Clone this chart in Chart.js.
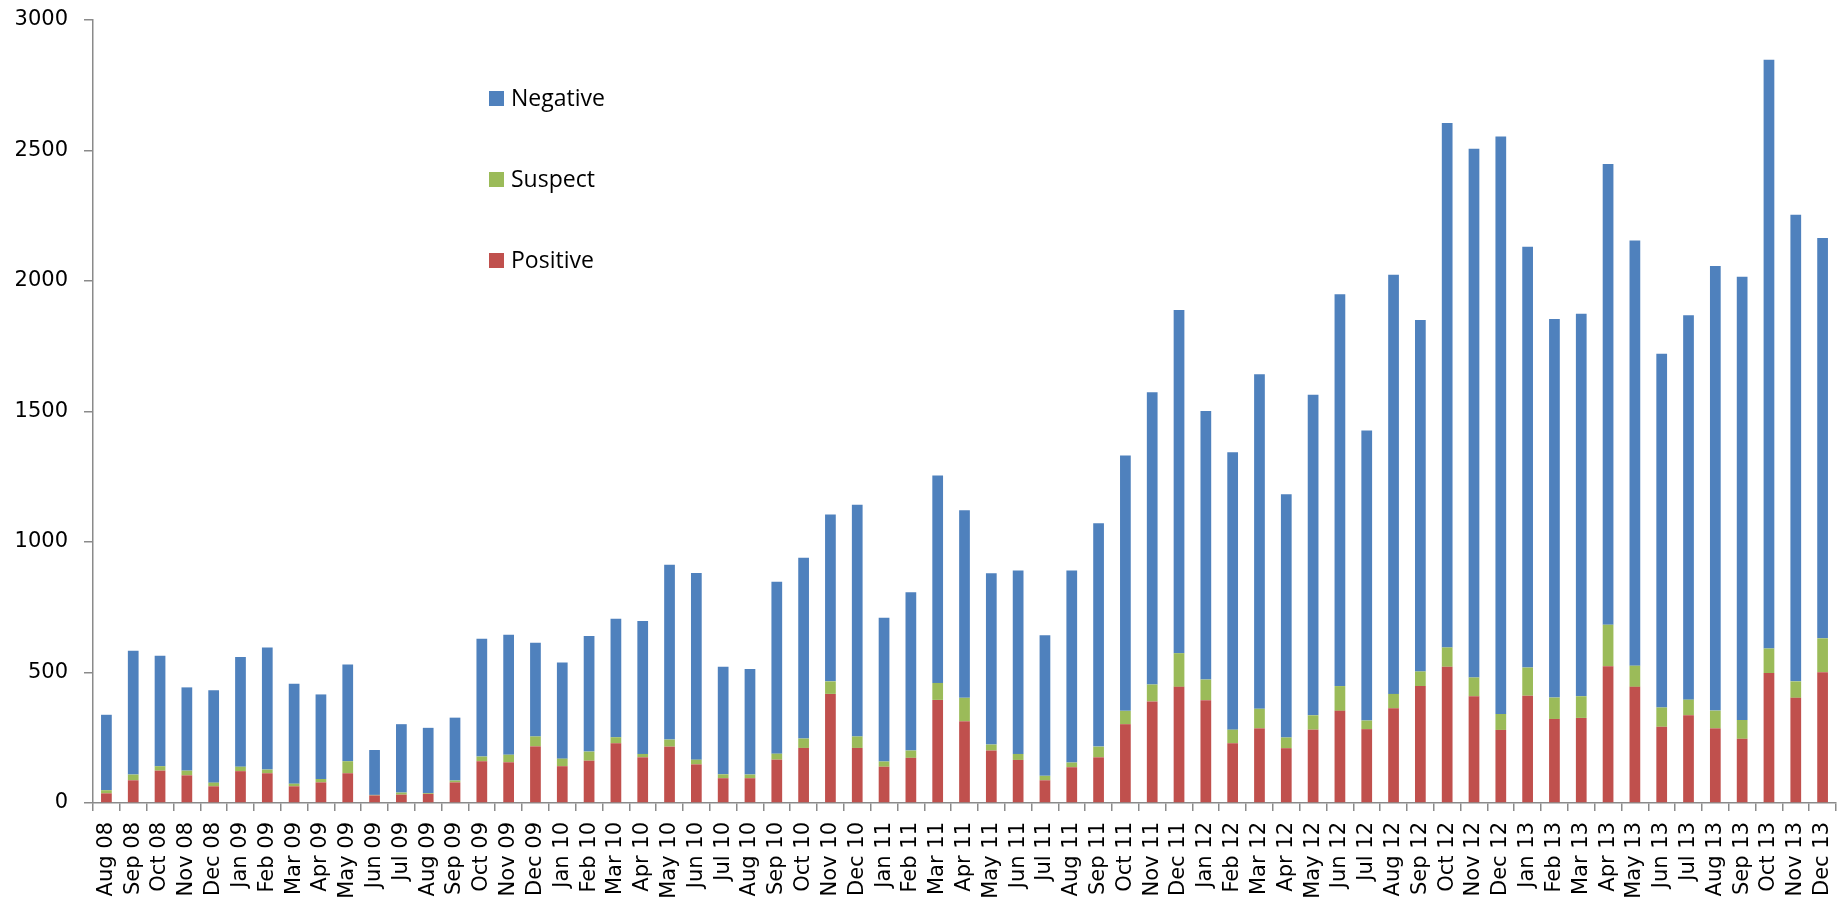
<!DOCTYPE html>
<html>
<head>
<meta charset="utf-8">
<title>Monthly test results</title>
<script src="https://cdn.jsdelivr.net/npm/chart.js@4/dist/chart.umd.min.js"></script>
<style>
  html, body { margin: 0; padding: 0; background: #ffffff; }
  #wrap { width: 1847px; height: 900px; }
</style>
</head>
<body>
<div id="wrap"><canvas id="c" width="1847" height="900"></canvas></div>
<script>
// Months, Aug 2008 – Dec 2013
const months = [
  'Aug 08','Sep 08','Oct 08','Nov 08','Dec 08',
  'Jan 09','Feb 09','Mar 09','Apr 09','May 09','Jun 09','Jul 09','Aug 09','Sep 09','Oct 09','Nov 09','Dec 09',
  'Jan 10','Feb 10','Mar 10','Apr 10','May 10','Jun 10','Jul 10','Aug 10','Sep 10','Oct 10','Nov 10','Dec 10',
  'Jan 11','Feb 11','Mar 11','Apr 11','May 11','Jun 11','Jul 11','Aug 11','Sep 11','Oct 11','Nov 11','Dec 11',
  'Jan 12','Feb 12','Mar 12','Apr 12','May 12','Jun 12','Jul 12','Aug 12','Sep 12','Oct 12','Nov 12','Dec 12',
  'Jan 13','Feb 13','Mar 13','Apr 13','May 13','Jun 13','Jul 13','Aug 13','Sep 13','Oct 13','Nov 13','Dec 13'
];

// Counts per month, stacked bottom to top: Positive, Suspect, Negative
const positive = [
  37, 87, 124, 106, 64,
  122, 114, 64, 79, 114, 29, 32, 35, 79, 160, 156, 217,
  141, 162, 229, 175, 216, 148, 95, 95, 166, 211, 418, 211,
  139, 173, 395, 313, 201, 165, 87, 137, 175, 302, 389, 445,
  394, 229, 286, 210, 281, 353, 283, 363, 448, 522, 409, 280,
  411, 322, 326, 524, 445, 292, 336, 286, 246, 498, 403, 501
];
const suspect = [
  12, 22, 17, 18, 14,
  17, 14, 10, 13, 46, 2, 8, 3, 7, 18, 29, 38,
  29, 35, 23, 13, 27, 18, 15, 14, 23, 36, 48, 44,
  20, 28, 65, 90, 23, 23, 17, 18, 41, 51, 65, 129,
  79, 52, 75, 41, 55, 95, 33, 55, 56, 74, 72, 61,
  108, 82, 83, 159, 81, 74, 60, 68, 72, 94, 63, 130
];
const negative = [
  289, 474, 423, 319, 354,
  420, 468, 383, 324, 371, 172, 262, 250, 241, 451, 460, 359,
  368, 443, 454, 509, 670, 715, 412, 404, 659, 693, 639, 888,
  551, 606, 795, 719, 656, 703, 539, 736, 856, 978, 1120, 1315,
  1029, 1063, 1282, 932, 1228, 1501, 1111, 1606, 1347, 2009, 2026, 2213,
  1612, 1450, 1466, 1765, 1629, 1355, 1473, 1703, 1698, 2256, 1788, 1534
];

// Value axis ticks
const yTicks = [0, 500, 1000, 1500, 2000, 2500, 3000];

const COLORS = { positive: '#C0504D', suspect: '#9BBB59', negative: '#4F81BD' };
const AXIS_COLOR = '#8a8a8a';
const TICK_FONT = { family: '"DejaVu Sans", sans-serif', size: 21 };

// Vertical legend drawn inside the plot, top series first
const sideLegend = {
  id: 'sideLegend',
  afterDraw(chart) {
    const { ctx, chartArea } = chart;
    const x0 = chartArea.left + 396;
    const y0 = chartArea.top + 71;
    const gap = 81;
    const box = 15;
    const items = chart.data.datasets.slice().reverse();
    ctx.save();
    ctx.font = '23px "Open Sans", "Noto Sans", sans-serif';
    ctx.textBaseline = 'alphabetic';
    ctx.textAlign = 'left';
    items.forEach((ds, i) => {
      const y = y0 + i * gap;
      ctx.fillStyle = ds.backgroundColor;
      ctx.fillRect(x0, y, box, box);
      ctx.fillStyle = '#000000';
      ctx.fillText(ds.label, x0 + box + 7, y + box);
    });
    ctx.restore();
  }
};

new Chart(document.getElementById('c'), {
  type: 'bar',
  data: {
    labels: months,
    datasets: [
      { label: 'Positive', data: positive, backgroundColor: COLORS.positive },
      { label: 'Suspect',  data: suspect,  backgroundColor: COLORS.suspect },
      { label: 'Negative', data: negative, backgroundColor: COLORS.negative }
    ]
  },
  options: {
    responsive: false,
    devicePixelRatio: 1,
    animation: false,
    layout: { padding: { top: 20, right: 11, left: 0, bottom: 0 } },
    datasets: { bar: { categoryPercentage: 1.0, barPercentage: 0.4 } },
    plugins: { legend: { display: false }, tooltip: { enabled: false } },
    scales: {
      x: {
        stacked: true,
        offset: true,
        grid: {
          offset: true,
          drawOnChartArea: false,
          drawTicks: true,
          tickLength: 8,
          color: AXIS_COLOR,
          lineWidth: 1.5
        },
        border: { display: true, color: AXIS_COLOR, width: 1.5 },
        ticks: {
          autoSkip: false,
          minRotation: 90,
          maxRotation: 90,
          padding: 11,
          color: '#000000',
          font: TICK_FONT
        },
        afterFit(scale) {
          scale.height = 97;
          scale.paddingLeft = 0;
          scale.paddingRight = 0;
        }
      },
      y: {
        stacked: true,
        min: yTicks[0],
        max: yTicks[yTicks.length - 1],
        afterBuildTicks(scale) { scale.ticks = yTicks.map(v => ({ value: v })); },
        grid: {
          drawOnChartArea: false,
          drawTicks: true,
          tickLength: 9,
          color: AXIS_COLOR,
          lineWidth: 1.5
        },
        border: { display: true, color: AXIS_COLOR, width: 1.5 },
        ticks: {
          padding: 16,
          color: '#000000',
          font: TICK_FONT,
          callback: (v) => String(v)
        },
        afterFit(scale) {
          scale.width = 93;
          scale.paddingTop = 0;
          scale.paddingBottom = 0;
        }
      }
    }
  },
  plugins: [sideLegend]
});
</script>
</body>
</html>
